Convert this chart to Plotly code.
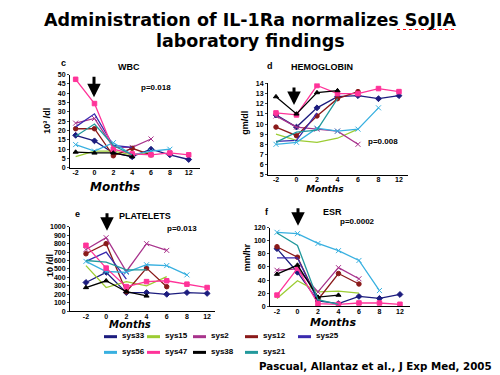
import plotly.graph_objects as go

MONTHS = ["-2", "0", "2", "4", "6", "8", "12"]
SERIES = ["sys33", "sys15", "sys2", "sys12", "sys25", "sys56", "sys47", "sys38", "sys21"]
COLORS = {"sys33": "#1c1c7e", "sys15": "#9ccc33", "sys2": "#a8338c", "sys12": "#8a1a1a",
          "sys25": "#3a2aae", "sys56": "#38b0e0", "sys47": "#ff3399", "sys38": "#000000",
          "sys21": "#22999c"}
MARKERS = {"sys33": "diamond", "sys15": None, "sys2": "x-thin", "sys12": "circle",
           "sys25": None, "sys56": "x-thin", "sys47": "square", "sys38": "triangle-up",
           "sys21": None}

WBC = {
    "sys33": [17.5, 14.5, 8, 6, 10, 7, 4.5],
    "sys15": [6, 9, 9, 7, 8.5, None, None],
    "sys2": [24, 26.5, 11, 11, 15.5, None, None],
    "sys12": [21, 21, 6.5, 10.5, 7, None, None],
    "sys25": [22, 29, 12, 11, None, None, None],
    "sys56": [12.5, 9, 13.5, 7, 9, 10, None],
    "sys47": [47.5, 34.5, 10, 7.5, 7, 8, 7],
    "sys38": [8.5, 8, 8, 6, None, None, None],
    "sys21": [17, 23.5, 12, 7, None, None, None],
}
HGB = {
    "sys33": [10.9, 9.7, 11.6, 12.7, 12.8, 12.5, 12.8],
    "sys15": [9, 8.4, 8.2, 8.6, 9.5, None, None],
    "sys2": [10.8, 9.7, 9.5, 9.3, 8, None, None],
    "sys12": [9.7, 8.85, 10.8, 12.5, 13.2, None, None],
    "sys25": [8.3, 8.4, 11.1, None, None, None, None],
    "sys56": [8, 8.2, 9.6, 9.3, 9.5, 11.6, None],
    "sys47": [11.1, 10.9, 13.8, 13, 13, 13.5, 13.2],
    "sys38": [12.7, 11, 13.1, 13.3, None, None, None],
    "sys21": [8.2, 9.2, 9.4, 12.5, None, None, None],
}
PLT = {
    "sys33": [340, 460, 220, 220, 200, 220, 210],
    "sys15": [540, 280, 350, 300, 410, None, None],
    "sys2": [730, 870, 470, 800, 720, None, None],
    "sys12": [680, 800, 230, 510, 290, None, None],
    "sys25": [590, 700, 380, None, None, None, None],
    "sys56": [590, 470, 460, 550, 540, 430, None],
    "sys47": [780, 510, 290, 350, 360, 320, 280],
    "sys38": [280, 360, 230, 180, None, None, None],
    "sys21": [600, 580, 490, 490, None, None, None],
}
ESR = {
    "sys33": [88, 52, 8, 4, 15, 12, 18],
    "sys15": [12, 39, 22, 23, 20, None, None],
    "sys2": [55, 57, 22, 59, 42, None, None],
    "sys12": [91, 75, 10, 50, 34, None, None],
    "sys25": [74, 74, 8, None, None, None, None],
    "sys56": [113, 111, 96, 85, 70, 24, None],
    "sys47": [17, 58, 4, 3, 5, 5, 3],
    "sys38": [49, 63, 14, 17, None, None, None],
    "sys21": [112, 93, 10, 3, None, None, None],
}

W, H = 500, 375
def px(x): return x / W
def py(y): return 1 - y / H

PANELS = [
    (WBC, "c", "WBC", "10³ /dl", "p=0.018", (70, 200, 72, 167), (-0.3, 6.6), (0, 50), 5),
    (HGB, "d", "HEMOGLOBIN", "gm/dl", "p=0.008", (268, 408, 81, 174), (-0.39, 6.44), (5, 14), 1),
    (PLT, "e", "PLATELETS", "10 /dl", "p=0.013", (70, 215, 227, 313), (-0.79, 6.39), (0, 1000), 100),
    (ESR, "f", "ESR", "mm/hr", "p=0.0002", (270, 410, 228, 308), (-0.34, 6.49), (0, 120), 20),
]
LETTER_POS = [(63, 60), (270, 63), (77, 214), (267, 212)]
TITLE_POS = [(129, 64), (322, 64), (145, 216), (332, 212)]
PVAL_POS = [(156, 85), (383, 140), (182, 229), (357, 222)]
YLAB_POS = [(47, 119), (245, 121), (50, 267), (247, 258)]
MONTHS_POS = [(115, 186), (325, 189), (130, 327), (333, 325)]
MONTHS_SIZE = [12, 9, 10, 11]
ARROW = [(94, 95, 22), (294, 103, 19), (107, 231, 19), (298, 226, 19)]

fig = go.Figure()
annotations = []
shapes = []
tickfont = dict(family="Liberation Sans", size=7, color="black", weight="bold")
lab_font = dict(family="Liberation Sans", size=9, color="black", weight="bold")


def note(x, y, text, font, **kw):
    d = dict(x=px(x), y=py(y), xref="paper", yref="paper", text=text, showarrow=False,
             xanchor="center", yanchor="middle", font=font)
    d.update(kw)
    annotations.append(d)


for i, (data, letter, ttl, ylab, pval, box, xr, yr, dt) in enumerate(PANELS):
    n = "" if i == 0 else str(i + 1)
    l, r, t, b = box
    for s in SERIES:
        mk = MARKERS[s]
        fig.add_trace(go.Scatter(
            x=MONTHS, y=data[s], xaxis="x" + n, yaxis="y" + n,
            mode="lines+markers" if mk else "lines",
            line=dict(color=COLORS[s], width=1.3),
            marker=dict(symbol=mk or "circle", size=4.5 if mk != "x-thin" else 5,
                        color=COLORS[s], line=dict(color=COLORS[s], width=1)),
            showlegend=False, connectgaps=False, hoverinfo="skip"))
    fig.update_layout(**{
        "xaxis" + n: dict(domain=[px(l), px(r)], anchor="y" + n, type="category",
                          categoryorder="array", categoryarray=MONTHS, range=list(xr),
                          showline=True, linecolor="black", linewidth=1, showgrid=False,
                          zeroline=False, ticks="", tickfont=tickfont, ticklen=0,
                          ticklabelstandoff=-2),
        "yaxis" + n: dict(domain=[py(b), py(t)], anchor="x" + n, range=list(yr), dtick=dt,
                          showline=True, linecolor="black", linewidth=1, showgrid=False,
                          zeroline=False, ticks="outside", ticklen=2, tickfont=tickfont),
    })
    note(*LETTER_POS[i], letter, lab_font)
    note(*TITLE_POS[i], ttl, lab_font)
    note(*PVAL_POS[i], pval, dict(family="Liberation Sans", size=8, color="black",
                                  weight="bold"))
    note(*YLAB_POS[i], ylab, lab_font, textangle=-90)
    note(*MONTHS_POS[i], "<i>Months</i>",
         dict(family="DejaVu Sans", size=MONTHS_SIZE[i], color="black", weight="bold"))
    ax_, ay_, alen = ARROW[i]
    annotations.append(dict(x=px(ax_), y=py(ay_), xref="paper", yref="paper", text="",
                            showarrow=True, ax=0, ay=-alen, arrowhead=2, arrowsize=0.9,
                            arrowwidth=3, arrowcolor="black"))

title_font = dict(family="DejaVu Sans", size=17.5, color="black", weight="bold")
note(250, 16, "Administration of IL-1Ra normalizes SoJIA", title_font)
note(250, 38, "laboratory findings", title_font)
shapes.append(dict(type="line", xref="paper", yref="paper", x0=px(397), x1=px(457),
                   y0=py(26), y1=py(26), line=dict(color="red", width=1, dash="dot")))

# manual legend
LEG_COLS = [104, 147, 193, 245, 298]
LEG_ROWS = [339, 355]
leg_font = dict(family="Liberation Sans", size=8, color="black", weight="bold")
for k, s in enumerate(SERIES):
    row, col = divmod(k, 5)
    x0 = LEG_COLS[col]
    y0 = LEG_ROWS[row]
    shapes.append(dict(type="line", xref="paper", yref="paper", x0=px(x0), x1=px(x0 + 13),
                       y0=py(y0), y1=py(y0), line=dict(color=COLORS[s], width=3)))
    note(x0 + 16, y0 - 1, s, leg_font, xanchor="left")

note(375, 369, "Pascual, Allantaz et al., J Exp Med, 2005",
     dict(family="DejaVu Sans", size=10.3, color="black", weight="bold"))

fig.update_layout(width=W, height=H, margin=dict(l=0, r=0, t=0, b=0),
                  paper_bgcolor="white", plot_bgcolor="white",
                  annotations=annotations, shapes=shapes, showlegend=False)
fig.write_html("out.html", config={"displayModeBar": False},
               post_script="document.body.style.margin='0';")
